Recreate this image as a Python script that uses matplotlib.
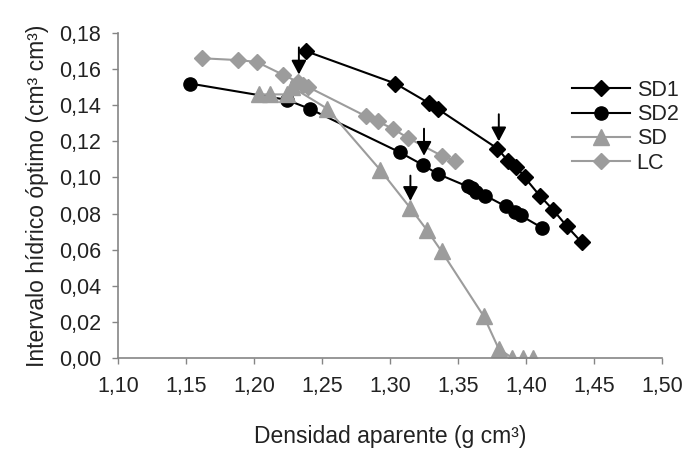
import matplotlib
matplotlib.use("Agg")
import matplotlib.pyplot as plt

plt.rcParams['font.family'] = ['Liberation Sans', 'DejaVu Sans']

# SD1 (black diamonds)
sd1_x = [1.238, 1.304, 1.329, 1.335, 1.379, 1.387, 1.393, 1.399, 1.410, 1.420, 1.430, 1.441]
sd1_y = [0.170, 0.152, 0.141, 0.138, 0.116, 0.109, 0.106, 0.100, 0.090, 0.082, 0.073, 0.064]

# SD2 (black circles)
sd2_x = [1.153, 1.224, 1.241, 1.307, 1.324, 1.335, 1.357, 1.360, 1.363, 1.370, 1.385, 1.392, 1.396, 1.412]
sd2_y = [0.152, 0.143, 0.138, 0.114, 0.107, 0.102, 0.095, 0.094, 0.092, 0.090, 0.084, 0.081, 0.079, 0.072]

# SD (gray triangles)
sd_x = [1.204, 1.212, 1.224, 1.228, 1.254, 1.293, 1.315, 1.327, 1.338, 1.369, 1.380, 1.390, 1.398, 1.405]
sd_y = [0.146, 0.146, 0.146, 0.150, 0.138, 0.104, 0.083, 0.071, 0.059, 0.023, 0.005, 0.0, 0.0, 0.0]

# LC (gray diamonds)
lc_x = [1.162, 1.188, 1.202, 1.221, 1.232, 1.236, 1.240, 1.282, 1.291, 1.302, 1.313, 1.338, 1.348]
lc_y = [0.166, 0.165, 0.164, 0.157, 0.153, 0.151, 0.150, 0.134, 0.131, 0.127, 0.122, 0.112, 0.109]

# arrows: x, top, tip
arrow_x = [1.233, 1.380, 1.325, 1.315]
arrow_top = [0.172, 0.135, 0.127, 0.101]
arrow_tip = [0.157, 0.120, 0.112, 0.087]

xticks = [1.10, 1.15, 1.20, 1.25, 1.30, 1.35, 1.40, 1.45, 1.50]
yticks = [0.00, 0.02, 0.04, 0.06, 0.08, 0.10, 0.12, 0.14, 0.16, 0.18]

gray = '#9c9c9c'
axis_gray = '#858585'
text_col = '#222222'
fs = 15.5
label_fs = 16.5

fig = plt.figure(figsize=(6.88, 4.53), dpi=100)
ax = fig.add_axes([118 / 688, 95 / 453, 544 / 688, 325 / 453])

ax.plot(sd1_x, sd1_y, '-D', color='black', lw=1.5, ms=8.5, label='SD1')
ax.plot(sd2_x, sd2_y, '-o', color='black', lw=1.5, ms=9.5, label='SD2')
ax.plot(sd_x, sd_y, '-^', color=gray, lw=1.5, ms=11, label='SD')
ax.plot(lc_x, lc_y, '-D', color=gray, lw=1.5, ms=8.5, label='LC')

for x, y0, y1 in zip(arrow_x, arrow_top, arrow_tip):
    ax.annotate('', xy=(x, y1), xytext=(x, y0),
                arrowprops=dict(arrowstyle='-|>,head_length=0.85,head_width=0.45',
                                color='black', lw=1.4, shrinkA=0, shrinkB=0))

ax.set_xlim(1.10, 1.50)
ax.set_ylim(0.0, 0.18)
ax.set_xticks(xticks)
ax.set_yticks(yticks)
ax.set_xticklabels([f"{v:.2f}".replace('.', ',') for v in xticks])
ax.set_yticklabels([f"{v:.2f}".replace('.', ',') for v in yticks])

for s in ['top', 'right']:
    ax.spines[s].set_visible(False)
for s in ['left', 'bottom']:
    ax.spines[s].set_color(axis_gray)
    ax.spines[s].set_linewidth(1.2)
ax.tick_params(colors=axis_gray, labelcolor=text_col, labelsize=fs, length=4, width=1)
ax.tick_params(axis='x', pad=9)
ax.tick_params(axis='y', pad=8)

ax.set_xlabel('Densidad aparente (g cm³)', fontsize=label_fs, color=text_col, labelpad=20)
ax.set_ylabel('Intervalo hídrico óptimo (cm³ cm³)', fontsize=label_fs, color=text_col, labelpad=7)

ax.legend(loc='upper left', bbox_to_anchor=(572 / 688, 1 - 80 / 453),
          bbox_transform=fig.transFigure, frameon=False, borderpad=0, borderaxespad=0,
          fontsize=fs, handlelength=2.7, labelspacing=0.15, handletextpad=0.3,
          labelcolor=text_col)

fig.savefig('out.png', dpi=100)
